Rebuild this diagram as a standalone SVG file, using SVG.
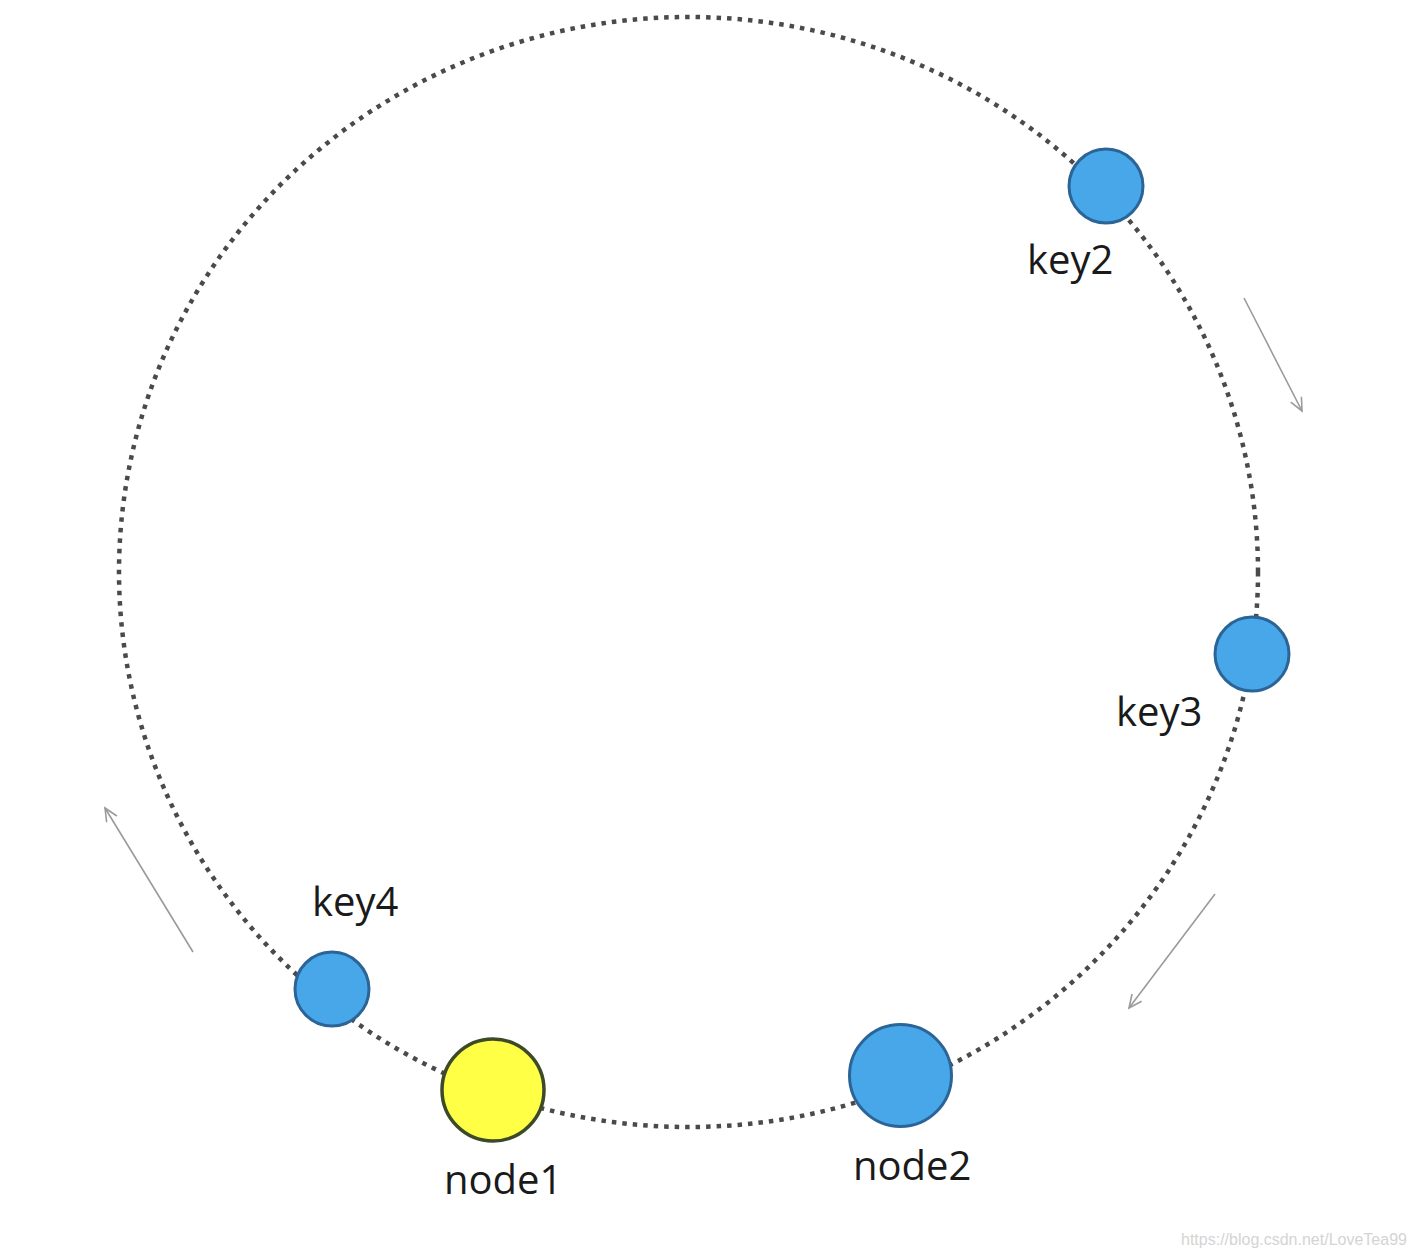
<svg xmlns="http://www.w3.org/2000/svg" width="1416" height="1256" viewBox="0 0 1416 1256">
<defs>
<style>
.ring{fill:none;stroke:#4a4a4a;stroke-width:4.5;stroke-dasharray:4.5 6}
.dir{fill:none;stroke:#9a9a9a;stroke-width:1.6}
.key{fill:#47a7e8;stroke:#2b6496;stroke-width:3}
.n1{fill:#ffff45;stroke:#3c4a28;stroke-width:3.5}
.lbl{font-family:"Open Sans","Liberation Sans",sans-serif;font-size:40px;fill:#1a1a1a}
.wm{font-family:"Liberation Sans",Arial,sans-serif;font-size:16px;fill:#d4d4d4}
</style>
<marker id="ah" markerWidth="16" markerHeight="16" refX="14" refY="8" orient="auto" markerUnits="userSpaceOnUse">
<path d="M1,2 L14,8 L1,14" fill="none" stroke="#9a9a9a" stroke-width="1.6"/>
</marker>
</defs>
<rect width="1416" height="1256" fill="#fff"/>
<g id="connectors">
<ellipse class="ring" cx="688.5" cy="572" rx="569.5" ry="555"/>
<line class="dir" x1="1244" y1="298" x2="1302" y2="411" marker-end="url(#ah)"/>
<line class="dir" x1="1215" y1="894" x2="1129" y2="1008" marker-end="url(#ah)"/>
<line class="dir" x1="193" y1="952" x2="105" y2="808" marker-end="url(#ah)"/>
</g>
<g id="key2">
<circle class="key" cx="1106" cy="186" r="37"/>
<text class="lbl" x="1027" y="274">key2</text>
</g>
<g id="key3">
<circle class="key" cx="1252" cy="654" r="37"/>
<text class="lbl" x="1116" y="726">key3</text>
</g>
<g id="key4">
<circle class="key" cx="332" cy="989" r="37"/>
<text class="lbl" x="312" y="916">key4</text>
</g>
<g id="node1">
<circle class="n1" cx="493" cy="1090" r="51"/>
<text class="lbl" x="444" y="1194">node1</text>
</g>
<g id="node2">
<circle class="key" cx="900.5" cy="1075.5" r="51"/>
<text class="lbl" x="853" y="1180">node2</text>
</g>
<text class="wm" x="1181" y="1245">https://blog.csdn.net/LoveTea99</text>
</svg>
